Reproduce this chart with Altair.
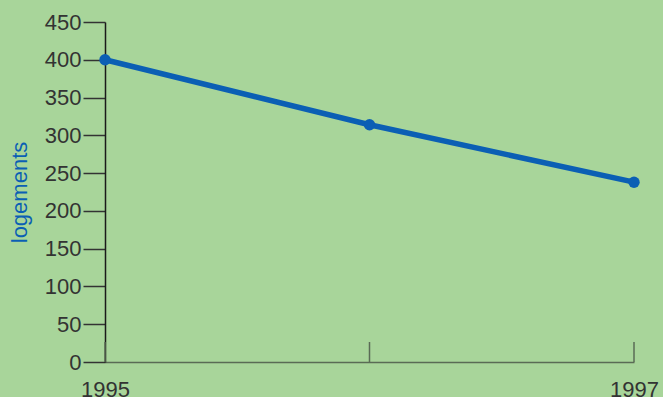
import altair as alt
import pandas as pd

# Data
years = [1995, 1996, 1997]
logements = [400, 314, 238]
y_ticks = [0, 50, 100, 150, 200, 250, 300, 350, 400, 450]

df = pd.DataFrame({"annee": years, "logements": logements})

BLUE = "#0b5fb4"
BG = "#a8d59a"
FONT = "Liberation Sans"

x_enc = alt.X(
    "annee:Q",
    scale=alt.Scale(domain=[1995, 1997], nice=False, zero=False),
    axis=alt.Axis(
        values=years, format="d", title=None, ticks=False, tickSize=0,
        domainColor="#5a6b55", domainWidth=1.5,
        labelFontSize=22, labelPadding=17, labelColor="#333333",
        labelFont=FONT, grid=False, labelOverlap=False, labelFlush=False,
    ),
)
y_enc = alt.Y(
    "logements:Q",
    scale=alt.Scale(domain=[0, 450], nice=False),
    axis=alt.Axis(
        values=y_ticks, title="logements", titleColor=BLUE, titleFontSize=22,
        titleFontWeight="normal", titleFont=FONT, titlePadding=13,
        tickSize=22, tickColor="#333333", tickWidth=1.5,
        domainColor="#1a1a1a", domainWidth=1.5,
        labelFontSize=22, labelPadding=2, labelColor="#333333",
        labelFont=FONT, grid=False, labelOverlap=False,
    ),
)

base = alt.Chart(df).encode(x=x_enc, y=y_enc)

ticks = alt.Chart(df).mark_rule(color="#5a6b55", strokeWidth=1.5).encode(
    x=x_enc,
    y=alt.value(320),
    y2=alt.value(340),
)

line = base.mark_line(color=BLUE, strokeWidth=5.5)
pts = base.mark_point(filled=True, size=130, opacity=1, color=BLUE)

chart = (
    alt.layer(line, ticks, pts)
    .properties(
        width=529,
        height=340,
        background=BG,
        padding={"left": 105, "top": 22, "right": 29, "bottom": 35},
        autosize=alt.AutoSizeParams(type="none"),
    )
    .configure_view(stroke=None)
)

chart.save("out.html", embed_options={"renderer": "svg", "actions": False})
